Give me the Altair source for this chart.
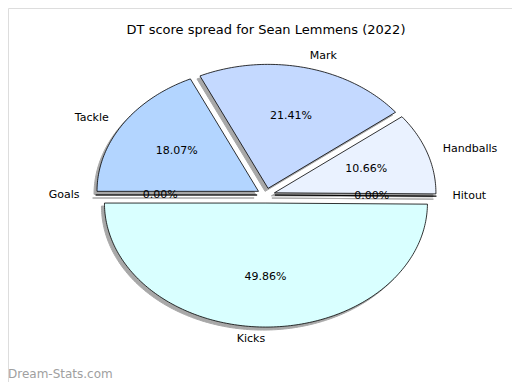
import math
import numpy as np
import pandas as pd
import altair as alt

# ---- data ----
labels = ["Kicks", "Hitout", "Handballs", "Mark", "Tackle", "Goals"]
shares = [49.86, 0.00, 10.66, 21.41, 18.07, 0.00]
colors = ["#d9ffff", "#e3f0ff", "#eaf2ff", "#c4d9ff", "#b3d5ff", "#a9cdff"]
title_text = "DT score spread for Sean Lemmens (2022)"
watermark = "Dream-Stats.com"

# ---- style ----
explode = [0.065, 0.055, 0.055, 0.055, 0.055, 0.055]
start_angle = 180.0
label_dist = 1.1
pct_dist = 0.6
FONT = "DejaVu Sans"

poly_rows = []
text_rows = []
a = start_angle
for name, p, e in zip(labels, shares, explode):
    span = 360.0 * p / 100.0
    t1, t2 = a, a + span
    mid = math.radians((t1 + t2) / 2.0)
    cx, cy = e * math.cos(mid), e * math.sin(mid)
    n = max(1, int(math.ceil(span / 1.0)))
    pts = [(cx, cy)] + [
        (cx + math.cos(math.radians(t)), cy + math.sin(math.radians(t)))
        for t in np.linspace(t1, t2, n + 1)
    ]
    for k, (x, y) in enumerate(pts):
        poly_rows.append({"name": name, "i": k, "u": x, "v": y})
    lx = cx + label_dist * math.cos(mid)
    ly = cy + label_dist * math.sin(mid)
    px = cx + pct_dist * math.cos(mid)
    py = cy + pct_dist * math.sin(mid)
    text_rows.append({
        "name": name, "lu": lx, "lv": ly, "pu": px, "pv": py,
        "pct": f"{p:.2f}%", "side": "left" if lx > 0 else "right",
    })
    a = t2

poly = pd.DataFrame(poly_rows)
texts = pd.DataFrame(text_rows)

W, H = 504, 374
CX, CY, RX, RY = 258.0, 187.0, 161.5, 124.0
xs = alt.Scale(domain=[-CX / RX, (W - CX) / RX], nice=False, zero=False)
ys = alt.Scale(domain=[(CY - H) / RY, CY / RY], nice=False, zero=False)

X = alt.X("u:Q", scale=xs, axis=None)
Y = alt.Y("v:Q", scale=ys, axis=None)

shadow = alt.Chart(poly).mark_line(
    interpolate="linear-closed", filled=True, fill="#8c8c8c", stroke="#8c8c8c",
    strokeWidth=1, opacity=0.75, xOffset=-3, yOffset=3,
).encode(x=X, y=Y, detail="name:N", order="i:Q")

pie = alt.Chart(poly).mark_line(
    interpolate="linear-closed", filled=True, stroke="black", strokeWidth=0.8,
).encode(
    x=X, y=Y,
    color=alt.Color("name:N", scale=alt.Scale(domain=labels, range=colors), legend=None),
    detail="name:N", order="i:Q",
)

lab_left = alt.Chart(texts).transform_filter("datum.side == 'left'").mark_text(
    align="left", baseline="middle", font=FONT, fontSize=11, color="black"
).encode(x=alt.X("lu:Q", scale=xs, axis=None), y=alt.Y("lv:Q", scale=ys, axis=None), text="name:N")

lab_right = alt.Chart(texts).transform_filter("datum.side == 'right'").mark_text(
    align="right", baseline="middle", font=FONT, fontSize=11, color="black"
).encode(x=alt.X("lu:Q", scale=xs, axis=None), y=alt.Y("lv:Q", scale=ys, axis=None), text="name:N")

pct = alt.Chart(texts).mark_text(
    align="center", baseline="middle", font=FONT, fontSize=11, color="black"
).encode(x=alt.X("pu:Q", scale=xs, axis=None), y=alt.Y("pv:Q", scale=ys, axis=None), text="pct:N")

title = alt.Chart(pd.DataFrame({"t": [title_text]})).mark_text(
    align="center", baseline="middle", font=FONT, fontSize=13, color="black"
).encode(x=alt.value(258), y=alt.value(22), text="t:N")

wm = alt.Chart(pd.DataFrame({"t": [watermark]})).mark_text(
    align="left", baseline="bottom", font=FONT, fontSize=12, color="#a0a0a0"
).encode(x=alt.value(0), y=alt.value(H - 1), text="t:N")

chart = alt.layer(shadow, pie, lab_left, lab_right, pct, title, wm).properties(
    width=W, height=H, autosize=alt.AutoSizeParams(type="none"), padding=0,
).configure_view(strokeWidth=0, stroke="transparent").configure(background="white")

chart.save("out.html", embed_options={"renderer": "svg", "actions": False})
